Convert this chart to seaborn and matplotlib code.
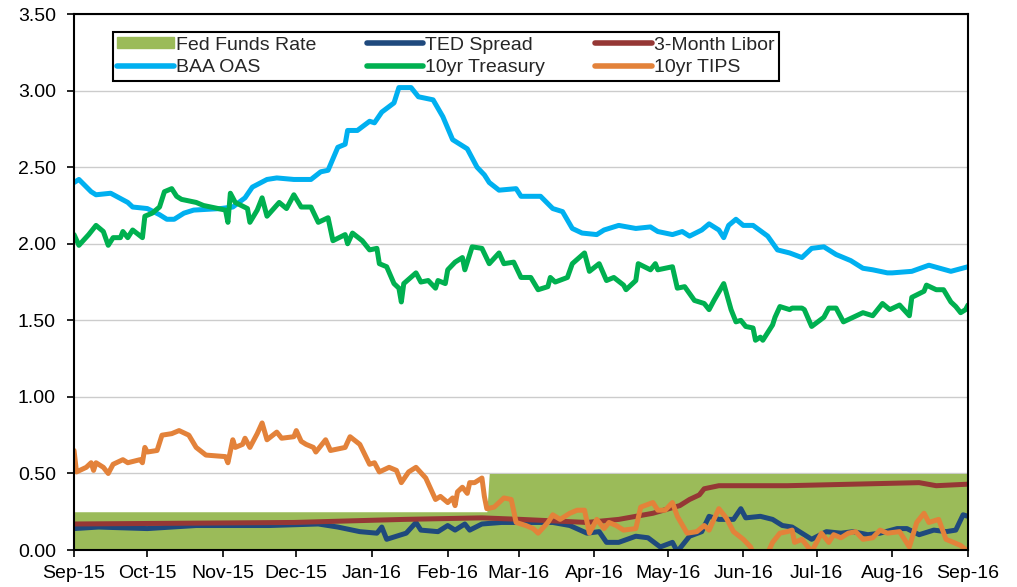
import pandas as pd
import matplotlib.pyplot as plt
import matplotlib.dates as mdates
from matplotlib.patches import Patch
from matplotlib.lines import Line2D
import seaborn as sns

# dates are kept as day offsets from the first day of the chart
START = '2015-09-01'
END = '2016-09-01'

fed_days = [0, 169, 170, 366]
fed_vals = [0.25, 0.25, 0.50, 0.50]

ted_days = [0, 10, 30, 50, 80, 100, 108, 117, 124, 126, 128, 132, 136, 140, 142, 149, 153,
            156, 160, 162, 167, 175, 183, 196, 203, 210, 215, 218, 223, 230, 235, 240, 245,
            247, 252, 257, 260, 264, 270, 273, 275, 281, 286, 290, 294, 298, 302, 308, 314,
            319, 325, 330, 337, 341, 346, 352, 357, 361, 364, 366]
ted_vals = [0.14, 0.15, 0.14, 0.16, 0.16, 0.17, 0.15, 0.12, 0.11, 0.15, 0.07, 0.09, 0.11,
            0.18, 0.13, 0.12, 0.16, 0.13, 0.17, 0.13, 0.17, 0.18, 0.18, 0.18, 0.16, 0.11,
            0.12, 0.05, 0.05, 0.09, 0.08, 0.02, 0.05, -0.01, 0.09, 0.12, 0.22, 0.20, 0.20,
            0.27, 0.21, 0.22, 0.20, 0.16, 0.15, 0.11, 0.07, 0.12, 0.11, 0.12, 0.10, 0.11,
            0.14, 0.14, 0.10, 0.13, 0.12, 0.13, 0.23, 0.22]

libor_days = [0, 90, 135, 167, 183, 210, 223, 237, 248, 252, 256, 258, 264, 292, 319, 346,
              353, 366]
libor_vals = [0.17, 0.18, 0.20, 0.21, 0.20, 0.18, 0.20, 0.24, 0.29, 0.33, 0.36, 0.40, 0.42,
              0.42, 0.43, 0.44, 0.42, 0.43]

baa_days = [0, 2, 7, 9, 15, 22, 24, 30, 35, 38, 41, 45, 49, 60, 65, 70, 73, 79, 83, 90, 97,
            101, 104, 108, 111, 112, 116, 121, 123, 126, 131, 133, 138, 141, 147, 151, 155,
            161, 165, 168, 170, 174, 181, 183, 191, 196, 200, 204, 208, 214, 217, 223, 230,
            236, 239, 245, 249, 252, 257, 260, 264, 266, 268, 271, 274, 278, 284, 288, 293,
            298, 302, 307, 312, 318, 323, 327, 333, 335, 343, 350, 359, 366]
baa_vals = [2.40, 2.42, 2.34, 2.32, 2.33, 2.27, 2.24, 2.23, 2.19, 2.16, 2.16, 2.20, 2.22,
            2.23, 2.24, 2.30, 2.37, 2.42, 2.43, 2.42, 2.42, 2.47, 2.48, 2.63, 2.65, 2.74,
            2.74, 2.80, 2.79, 2.86, 2.92, 3.02, 3.02, 2.96, 2.94, 2.83, 2.68, 2.62, 2.50,
            2.45, 2.40, 2.35, 2.36, 2.31, 2.31, 2.23, 2.21, 2.10, 2.07, 2.06, 2.09, 2.12,
            2.10, 2.11, 2.08, 2.06, 2.08, 2.05, 2.09, 2.13, 2.09, 2.04, 2.12, 2.16, 2.12,
            2.12, 2.05, 1.96, 1.94, 1.91, 1.97, 1.98, 1.93, 1.89, 1.84, 1.83, 1.81, 1.81,
            1.82, 1.86, 1.82, 1.85]

tsy_days = [0, 2, 6, 9, 12, 14, 16, 19, 20, 22, 24, 28, 29, 32, 35, 37, 40, 42, 44, 50, 53,
            59, 62, 63, 64, 66, 71, 72, 75, 77, 79, 84, 87, 90, 93, 97, 100, 104, 106, 111,
            112, 114, 118, 121, 124, 125, 128, 131, 133, 134, 135, 140, 142, 145, 148, 149,
            152, 153, 156, 159, 160, 163, 167, 170, 174, 176, 180, 183, 187, 190, 194, 195,
            197, 202, 204, 209, 211, 215, 218, 221, 225, 226, 230, 231, 236, 238, 239, 245,
            247, 250, 254, 258, 260, 262, 266, 269, 271, 273, 275, 278, 279, 281, 282, 286,
            287, 289, 293, 294, 298, 299, 302, 307, 309, 312, 315, 319, 323, 327, 331, 334,
            338, 342, 343, 348, 349, 353, 356, 359, 361, 363, 365, 366]
tsy_vals = [2.06, 1.99, 2.06, 2.12, 2.08, 1.99, 2.04, 2.04, 2.08, 2.04, 2.09, 2.04, 2.18,
            2.20, 2.24, 2.34, 2.36, 2.31, 2.29, 2.27, 2.25, 2.23, 2.22, 2.14, 2.33, 2.27,
            2.23, 2.14, 2.22, 2.30, 2.18, 2.27, 2.23, 2.32, 2.24, 2.24, 2.14, 2.17, 2.02,
            2.06, 2.00, 2.07, 2.02, 1.96, 1.97, 1.87, 1.85, 1.74, 1.71, 1.62, 1.74, 1.81,
            1.75, 1.76, 1.71, 1.76, 1.74, 1.83, 1.88, 1.91, 1.83, 1.98, 1.97, 1.87, 1.94,
            1.87, 1.88, 1.78, 1.78, 1.70, 1.72, 1.78, 1.75, 1.78, 1.87, 1.94, 1.82, 1.87,
            1.76, 1.78, 1.73, 1.70, 1.76, 1.87, 1.83, 1.87, 1.83, 1.85, 1.71, 1.72, 1.63,
            1.61, 1.57, 1.63, 1.74, 1.57, 1.49, 1.50, 1.46, 1.45, 1.37, 1.39, 1.37, 1.47,
            1.52, 1.59, 1.57, 1.58, 1.58, 1.57, 1.46, 1.52, 1.58, 1.58, 1.49, 1.52, 1.55,
            1.53, 1.61, 1.57, 1.60, 1.53, 1.65, 1.69, 1.73, 1.70, 1.70, 1.62, 1.59, 1.55,
            1.57, 1.60]

tips_days = [0, 1, 5, 7, 8, 9, 12, 14, 16, 20, 22, 27, 28, 29, 30, 34, 36, 40, 43, 47, 50,
             54, 62, 63, 65, 66, 69, 70, 72, 75, 77, 79, 83, 85, 90, 91, 93, 95, 98, 99, 103,
             105, 111, 113, 117, 121, 123, 125, 129, 132, 134, 137, 140, 144, 148, 150, 153,
             155, 156, 157, 159, 161, 162, 164, 167, 168, 169, 172, 176, 179, 181, 185, 188,
             190, 194, 196, 199, 203, 206, 209, 211, 214, 217, 219, 222, 225, 230, 232, 237,
             239, 242, 245, 247, 251, 255, 258, 260, 264, 267, 270, 274, 277, 278, 284, 286,
             289, 292, 294, 295, 298, 302, 306, 309, 311, 314, 317, 320, 323, 327, 330, 333,
             338, 342, 345, 348, 350, 354, 357, 360, 363, 366]
tips_vals = [0.65, 0.51, 0.54, 0.57, 0.52, 0.57, 0.54, 0.50, 0.56, 0.59, 0.57, 0.59, 0.57,
             0.67, 0.64, 0.65, 0.75, 0.76, 0.78, 0.75, 0.67, 0.62, 0.61, 0.57, 0.72, 0.67,
             0.69, 0.73, 0.67, 0.76, 0.83, 0.72, 0.77, 0.73, 0.74, 0.78, 0.71, 0.69, 0.67,
             0.64, 0.72, 0.65, 0.67, 0.74, 0.69, 0.56, 0.57, 0.51, 0.54, 0.52, 0.44, 0.51,
             0.54, 0.47, 0.33, 0.35, 0.31, 0.34, 0.29, 0.38, 0.41, 0.37, 0.44, 0.44, 0.47,
             0.35, 0.27, 0.28, 0.34, 0.33, 0.18, 0.16, 0.14, 0.11, 0.18, 0.23, 0.20, 0.24,
             0.26, 0.26, 0.11, 0.20, 0.14, 0.18, 0.16, 0.13, 0.14, 0.28, 0.31, 0.26, 0.26,
             0.31, 0.22, 0.11, 0.12, 0.16, 0.13, 0.27, 0.21, 0.12, 0.07, 0.02, -0.02, -0.02,
             0.05, 0.11, 0.12, 0.13, 0.05, 0.07, -0.01, 0.11, 0.05, 0.10, 0.08, 0.11, 0.12,
             0.07, 0.08, 0.13, 0.11, 0.12, 0.02, 0.18, 0.24, 0.18, 0.20, 0.07, 0.05, 0.03,
             -0.01]

FED_COLOR = '#9BBB59'
series = [
    ('TED Spread', ted_days, ted_vals, '#1F497D'),
    ('3-Month Libor', libor_days, libor_vals, '#953735'),
    ('BAA OAS', baa_days, baa_vals, '#00B0F0'),
    ('10yr Treasury', tsy_days, tsy_vals, '#00B050'),
    ('10yr TIPS', tips_days, tips_vals, '#E3823A'),
]


def to_dates(days):
    return pd.Timestamp(START) + pd.to_timedelta(days, unit='D')


sns.set_theme(style='white')
plt.rcParams['font.family'] = ['Liberation Sans', 'DejaVu Sans']

fig, ax = plt.subplots(figsize=(10.17, 5.87), dpi=100)
fig.subplots_adjust(left=0.0728, right=0.9518, top=0.976, bottom=0.063)

ax.fill_between(to_dates(fed_days), 0, fed_vals, color=FED_COLOR, lw=0, zorder=1)

colors = {}
for name, days, vals, color in series:
    sns.lineplot(x=to_dates(days), y=vals, ax=ax, color=color, lw=3.6,
                 estimator=None, zorder=2)
    colors[name] = color

ax.set_xlim(pd.Timestamp(START), pd.Timestamp(END))
ax.set_ylim(0, 3.5)
ax.set_yticks([i * 0.5 for i in range(8)])
ax.yaxis.set_major_formatter(plt.FuncFormatter(lambda v, p: f'{v:.2f}'))
ax.xaxis.set_major_locator(mdates.MonthLocator())
ax.xaxis.set_major_formatter(mdates.DateFormatter('%b-%y'))
ax.set_xlabel('')
ax.set_ylabel('')

ax.yaxis.grid(True, color='#CCCCCC', lw=1)
ax.set_axisbelow(True)
for sp in ax.spines.values():
    sp.set_color('black')
    sp.set_linewidth(1.5)
ax.tick_params(bottom=True, left=True, direction='out', length=5, width=1.2,
               color='black', labelsize=14, labelcolor='black')
ax.tick_params(axis='y', pad=8)
ax.tick_params(axis='x', pad=6)

# legend laid out column-wise to read row-wise like the original
handles = [
    Patch(color=FED_COLOR),
    Line2D([], [], color=colors['BAA OAS'], lw=4, solid_capstyle='round'),
    Line2D([], [], color=colors['TED Spread'], lw=4, solid_capstyle='round'),
    Line2D([], [], color=colors['10yr Treasury'], lw=4, solid_capstyle='round'),
    Line2D([], [], color=colors['3-Month Libor'], lw=4, solid_capstyle='round'),
    Line2D([], [], color=colors['10yr TIPS'], lw=4, solid_capstyle='round'),
]
labels = ['Fed Funds Rate', 'BAA OAS', 'TED Spread', '10yr Treasury',
          '3-Month Libor', '10yr TIPS']
leg = ax.legend(handles, labels, ncol=3, loc='upper left', bbox_to_anchor=(0.0436, 0.966),
                borderaxespad=0, frameon=True, fancybox=False, edgecolor='black',
                framealpha=1, fontsize=14, handlelength=2.9, handleheight=0.5,
                handletextpad=0.1, columnspacing=2.6, labelspacing=0.3, borderpad=0.22)
leg.get_frame().set_linewidth(1.5)

fig.savefig('out.png', dpi=100)
